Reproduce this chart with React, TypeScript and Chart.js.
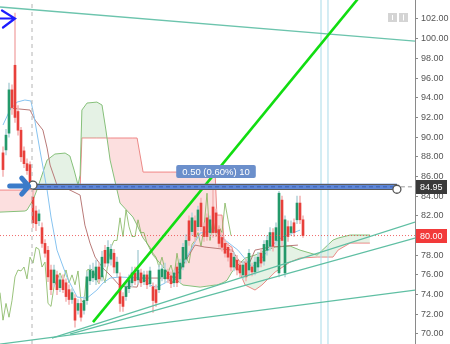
import React, { useEffect, useRef } from 'react';
import { Chart, registerables } from 'chart.js';

Chart.register(...registerables);

// ---------- price axis ----------
const yMin = 68.98;
const yMax = 103.93;
const yStep = 2;
const xMax = 138.33; // visible bar slots

// ---------- candles (bar slots start at 1) ----------
const opens = [88.4, 88.7, 90.4, 94.8, 97.3, 92.6, 90.7, 88.6, 87.3, 87.2, 83.9, 82.5, 81.5, 80.8, 79.2, 78.5, 76.5, 75.2, 76.0, 74.7, 75.5, 75.2, 74.5, 73.5, 73.6, 72.4, 73.1, 72.4, 73.4, 75.4, 75.7, 75.5, 76.8, 75.8, 78.5, 77.2, 77.6, 78.2, 76.2, 75.8, 73.8, 73.8, 74.6, 75.2, 76.2, 75.5, 76.2, 75.3, 76.0, 75.1, 74.8, 74.5, 74.5, 75.8, 75.6, 76.3, 75.9, 75.2, 76.8, 75.6, 76.8, 77.6, 81.5, 80.4, 81.5, 80.9, 83.3, 80.9, 81.8, 80.3, 82.9, 82.3, 80.6, 79.8, 79.2, 78.8, 78.2, 76.8, 77.5, 77.0, 76.0, 77.2, 76.5, 76.8, 76.3, 76.8, 78.2, 77.4, 78.5, 78.9, 80.3, 79.5, 76.2, 83.6, 76.2, 80.9, 80.3, 81.3, 81.6, 83.3, 81.6];
const highs = [89.0, 90.8, 95.5, 95.3, 102.6, 93.2, 91.0, 89.0, 87.8, 87.5, 85.1, 83.0, 82.6, 81.3, 79.6, 78.9, 77.0, 77.0, 76.4, 75.9, 76.0, 75.6, 75.0, 74.6, 74.0, 73.5, 73.5, 73.8, 76.3, 77.0, 77.2, 77.5, 77.2, 78.4, 79.0, 79.5, 79.1, 78.6, 77.8, 76.2, 74.2, 75.3, 76.0, 76.8, 76.8, 78.5, 76.6, 76.4, 76.4, 76.8, 75.2, 75.0, 77.0, 77.0, 77.2, 76.6, 76.3, 76.5, 77.2, 77.6, 79.2, 80.1, 82.0, 82.3, 82.0, 83.0, 83.8, 81.3, 82.2, 82.0, 85.0, 82.7, 81.0, 80.2, 79.6, 79.2, 78.6, 78.3, 78.0, 77.4, 77.4, 77.6, 78.6, 77.2, 77.8, 78.3, 78.6, 79.5, 80.0, 80.8, 80.7, 81.3, 84.5, 84.0, 82.0, 81.5, 81.5, 81.7, 84.0, 84.0, 82.0];
const lows = [86.0, 88.2, 90.0, 92.3, 91.5, 90.2, 87.5, 86.9, 86.2, 85.0, 80.8, 80.5, 81.0, 78.8, 77.8, 75.3, 74.0, 74.8, 74.0, 74.3, 74.2, 73.3, 73.0, 73.1, 70.7, 72.0, 71.3, 72.0, 73.0, 75.0, 75.3, 75.0, 75.2, 75.4, 76.8, 76.9, 77.0, 76.2, 75.8, 72.3, 72.3, 73.4, 74.2, 74.8, 75.0, 75.1, 74.8, 75.0, 74.6, 74.8, 72.2, 72.8, 74.2, 75.4, 75.2, 75.2, 74.7, 74.8, 74.8, 75.2, 76.5, 77.2, 79.0, 80.0, 79.4, 80.5, 80.5, 79.4, 79.5, 79.9, 79.8, 79.9, 78.8, 78.4, 77.8, 77.4, 76.4, 76.4, 76.0, 75.8, 75.6, 75.4, 76.0, 75.9, 76.0, 76.4, 76.8, 77.0, 78.0, 78.5, 78.4, 79.0, 75.8, 79.0, 75.8, 79.4, 80.0, 79.9, 81.2, 81.2, 79.8];
const closes = [86.7, 90.2, 94.8, 93.0, 92.0, 90.7, 88.0, 87.3, 86.6, 85.4, 81.3, 81.2, 82.2, 79.2, 78.2, 75.8, 74.5, 76.5, 74.5, 75.5, 74.5, 73.8, 73.5, 74.2, 71.4, 73.1, 71.7, 73.4, 75.8, 76.5, 76.4, 76.8, 75.6, 77.8, 77.2, 78.8, 78.6, 76.8, 77.3, 73.1, 72.8, 74.8, 75.5, 76.2, 75.4, 76.5, 75.2, 76.0, 75.0, 76.4, 73.4, 73.2, 76.5, 76.6, 76.5, 75.6, 75.1, 76.2, 75.2, 77.2, 78.8, 79.5, 79.5, 81.8, 79.9, 82.6, 80.9, 79.9, 79.9, 81.6, 80.3, 80.3, 79.2, 78.8, 78.2, 77.8, 76.8, 77.8, 76.5, 76.2, 77.0, 75.8, 78.2, 76.3, 77.3, 77.8, 77.2, 79.1, 79.5, 80.3, 78.9, 80.8, 84.3, 79.5, 81.6, 79.9, 80.9, 80.3, 83.3, 81.6, 80.0];

// ---------- Ichimoku ----------
const tenkanX = [1, 3.3, 5.7, 8.3, 10.3, 11.3, 13.3, 15.7, 17, 19, 22.3, 25.7, 29, 32.3, 34.3, 36.7, 40, 47.7, 50, 52.3, 55, 57.7, 61.7, 66.7, 71.7, 75, 79.3, 84, 87.3, 90.7, 94, 100];
const tenkanY = [91.23, 92.75, 93.56, 93.77, 93.67, 92.24, 88.69, 84.62, 81.88, 78.52, 75.78, 73.75, 73.64, 74.46, 75.17, 75.68, 75.78, 75.68, 74.97, 74.76, 75.17, 75.78, 77.5, 80.25, 80.55, 79.54, 78.52, 76.79, 77.71, 79.03, 79.84, 80.55];

const kijunX = [3.3, 10, 11.7, 14.3, 15.7, 16.7, 19, 23.3, 26.7, 28.3, 30, 31.7, 34.3, 36.7, 40, 45.7, 46.7, 55.7, 57.3, 60, 65, 68.3, 77.3, 80, 83.3, 85, 90, 99.3];
const kijunY = [92.95, 92.75, 91.73, 90.72, 88.89, 87.16, 85.13, 84.62, 84.11, 81.06, 79.23, 77.81, 76.69, 75.98, 74.87, 74.76, 75.68, 75.68, 75.17, 76.49, 79.03, 78.83, 78.52, 77.3, 77.3, 78.52, 78.83, 79.03];

const laggingSpan = [74.2, 71.4, 73.1, 71.7, 73.4, 75.8, 76.5, 76.4, 76.8, 75.6, 77.8, 77.2, 78.8, 78.6, 76.8, 77.3, 73.1, 72.8, 74.8, 75.5, 76.2, 75.4, 76.5, 75.2, 76.0, 75.0, 76.4, 73.4, 73.2, 76.5, 76.6, 76.5, 75.6, 75.1, 76.2, 75.2, 77.2, 78.8, 79.5, 79.5, 81.8, 79.9, 82.6, 80.9, 79.9, 79.9, 81.6, 80.3, 80.3, 79.2, 78.8, 78.2, 77.8, 76.8, 77.8, 76.5, 76.2, 77.0, 75.8, 78.2, 76.3, 77.3, 77.8, 77.2, 79.1, 79.5, 80.3, 78.9, 80.8, 84.3, 79.5, 81.6, 79.9, 80.9, 80.3, 83.3, 81.6, 80.0];

const cloudX = [0, 8.3, 9, 11, 12.3, 14, 15.7, 18.3, 21.7, 23.3, 24.7, 26, 26.7, 27.3, 29, 32.3, 34, 35.3, 36.7, 40, 44.3, 45.7, 47.7, 49, 51, 56.7, 61, 66.7, 71.7, 72.3, 74, 74.7, 75.7, 77.3, 79.3, 81.7, 85, 87.3, 91.7, 96.7, 100, 105.7, 111, 112.7, 116.7, 123.3];
const spanA = [82.38, 82.49, 82.59, 83.6, 84.62, 86.15, 87.67, 88.28, 88.38, 88.08, 86.65, 85.13, 86.15, 92.75, 93.46, 93.56, 93.26, 90.72, 87.67, 83.3, 81.88, 81.06, 79.74, 79.23, 78.01, 75.98, 74.97, 74.76, 74.97, 74.97, 75.17, 75.27, 75.47, 76.29, 77.0, 77.71, 78.01, 78.32, 78.83, 78.93, 78.52, 78.01, 79.54, 79.74, 80.05, 80.05];
const spanB = [84.62, 84.62, 84.62, 84.72, 84.72, 84.72, 84.72, 84.72, 84.72, 84.72, 84.72, 84.72, 84.72, 89.91, 89.91, 89.91, 89.91, 89.91, 89.91, 89.91, 89.91, 89.91, 86.45, 86.45, 86.45, 86.45, 86.45, 86.45, 86.45, 82.08, 82.08, 79.54, 79.13, 78.83, 76.69, 74.97, 74.46, 74.97, 76.29, 77.3, 77.71, 77.81, 77.81, 78.52, 79.23, 79.23];

// ---------- drawings (anchor values in bar slot / price) ----------
const topTrend = [[0, 103.22], [138.33, 99.76]];
const riseA = [[17.3, 69.58], [138.33, 81.37]];
const riseB = [[23.3, 69.99], [138.33, 79.74]];
const riseC = [[0, 68.97], [138.33, 74.46]];
const limeTrend = [[31, 71.21], [122, 105.05]];
const dashedVertical = 10.67;
const blueVerticals = [107, 109.33];
const lastPrice = 80.0;
const measurePrice = 84.95;
const measureTop = 85.27;
const measureBottom = 84.65;
const measureStart = [11, 85.13];
const measureEnd = [132.3, 84.7];
const measureText = '0.50 (0.60%) 10';
const measureLabelAt = [72, 87.16];
const arrowTopTip = [5, 102.05];
const arrowMidTip = [9.9, 85.03];

const GREEN = '#23996a';
const RED = '#e8403b';

const pts = (xs: number[], ys: number[]) => xs.map((x, i) => ({ x, y: ys[i] }));
const seg = (p: number[][]) => p.map(([x, y]) => ({ x, y }));
const lineDs = (data: any[], color: string, width = 1, extra: any = {}) => ({
  type: 'line',
  data,
  borderColor: color,
  borderWidth: width,
  pointRadius: 0,
  tension: 0,
  fill: false,
  clip: 0,
  ...extra,
});

const overlay = {
  id: 'overlay',
  afterDatasetsDraw(chart: any) {
    const { ctx } = chart;
    const x = chart.scales.x;
    const y = chart.scales.y;
    const px = (v: number) => x.getPixelForValue(v);
    const py = (v: number) => y.getPixelForValue(v);
    ctx.save();

    // measure band
    const bx1 = px(measureStart[0]);
    const bx2 = px(measureEnd[0]);
    const by1 = py(measureTop);
    const by2 = py(measureBottom);
    ctx.fillStyle = '#5d86d8';
    ctx.fillRect(bx1, by1, bx2 - bx1, by2 - by1);
    ctx.strokeStyle = '#5a5a5a';
    ctx.lineWidth = 1;
    ctx.beginPath();
    ctx.moveTo(bx1, Math.round(by1) + 0.5);
    ctx.lineTo(bx2, Math.round(by1) + 0.5);
    ctx.moveTo(bx1, Math.round(by2) - 0.5);
    ctx.lineTo(bx2, Math.round(by2) - 0.5);
    ctx.stroke();
    ctx.strokeStyle = 'rgba(40,70,150,0.6)';
    ctx.setLineDash([4, 3]);
    ctx.beginPath();
    ctx.moveTo(bx1, py(measurePrice));
    ctx.lineTo(bx2, py(measurePrice));
    ctx.stroke();
    // dashed leader to axis
    ctx.strokeStyle = '#9a9a9a';
    ctx.beginPath();
    ctx.moveTo(px(measureEnd[0]) + 4, py(measurePrice));
    ctx.lineTo(chart.chartArea.right, py(measurePrice));
    ctx.stroke();
    ctx.setLineDash([]);

    // end circles
    [measureStart, measureEnd].forEach(([cx, cy]) => {
      ctx.beginPath();
      ctx.arc(px(cx), py(cy), 4, 0, Math.PI * 2);
      ctx.fillStyle = '#ffffff';
      ctx.fill();
      ctx.strokeStyle = '#555';
      ctx.lineWidth = 1.3;
      ctx.stroke();
    });

    // measure label
    const lx = px(measureLabelAt[0]);
    const ly = py(measureLabelAt[1]);
    ctx.font = '9.5px "Liberation Sans", Arial, sans-serif';
    const tw = ctx.measureText(measureText).width;
    const w = tw + 12;
    ctx.fillStyle = '#6b8fcb';
    ctx.beginPath();
    (ctx as any).roundRect(lx - w / 2, ly, w, 13, 2);
    ctx.fill();
    ctx.fillStyle = '#ffffff';
    ctx.textAlign = 'center';
    ctx.textBaseline = 'middle';
    ctx.fillText(measureText, lx, ly + 7);

    // top-left chevron arrow
    const ax = px(arrowTopTip[0]);
    const ay = py(arrowTopTip[1]);
    ctx.strokeStyle = '#1c1cff';
    ctx.lineWidth = 2.2;
    ctx.lineCap = 'round';
    ctx.beginPath();
    ctx.moveTo(ax - 13, ay - 8);
    ctx.lineTo(ax, ay);
    ctx.lineTo(ax - 12, ay + 9);
    ctx.moveTo(ax - 15, ay);
    ctx.lineTo(ax, ay);
    ctx.stroke();

    // thick arrow at measure start
    const mx = px(arrowMidTip[0]);
    const my = py(arrowMidTip[1]);
    ctx.strokeStyle = '#3b7bc9';
    ctx.lineWidth = 5;
    ctx.lineCap = 'round';
    ctx.lineJoin = 'round';
    ctx.beginPath();
    ctx.moveTo(mx - 20, my);
    ctx.lineTo(mx - 2, my);
    ctx.moveTo(mx - 8, my - 8);
    ctx.lineTo(mx - 1, my);
    ctx.lineTo(mx - 8, my + 8);
    ctx.stroke();

    // small toolbar icons at top right
    const r = chart.chartArea.right;
    ctx.fillStyle = '#d4d4d4';
    ctx.fillRect(r - 27, 13, 9, 9);
    ctx.fillRect(r - 16, 13, 9, 9);
    ctx.strokeStyle = '#ffffff';
    ctx.lineWidth = 1;
    ctx.lineCap = 'butt';
    ctx.beginPath();
    ctx.moveTo(r - 22.5, 15);
    ctx.lineTo(r - 22.5, 20);
    ctx.moveTo(r - 11.5, 14.5);
    ctx.lineTo(r - 11.5, 20.5);
    ctx.stroke();
    ctx.restore();
  },
  afterDraw(chart: any) {
    const { ctx } = chart;
    const y = chart.scales.y;
    const left = chart.chartArea.right;
    const tag = (v: number, bg: string) => {
      const yy = y.getPixelForValue(v);
      ctx.save();
      ctx.fillStyle = bg;
      ctx.fillRect(left + 1, Math.round(yy) - 7, 31, 14);
      ctx.fillStyle = '#ffffff';
      ctx.font = '9px "Liberation Sans", Arial, sans-serif';
      ctx.textAlign = 'left';
      ctx.textBaseline = 'middle';
      ctx.fillText(v.toFixed(2), left + 5, Math.round(yy) + 0.5);
      ctx.restore();
    };
    tag(measurePrice, '#3a3a3a');
    tag(lastPrice, '#f23a3a');
  },
};

export default function App() {
  const ref = useRef<HTMLCanvasElement>(null);
  useEffect(() => {
    document.body.style.margin = '0';
    const bodies = opens.map((o, i) => ({ x: i + 1, y: [o, closes[i]] }));
    const wicks = lows.map((l, i) => ({ x: i + 1, y: [l, highs[i]] }));
    const up = (i: number) => closes[i] >= opens[i];

    const datasets: any[] = [
      lineDs(seg(limeTrend), '#11dd11', 2.6),
      lineDs(seg(topTrend), '#6cc4ad', 1.3),
      lineDs(seg(riseA), '#5fbfa3', 1.3),
      lineDs(seg(riseB), '#5fbfa3', 1.3),
      lineDs(seg(riseC), '#5fbfa3', 1.3),
      lineDs([{ x: 0, y: lastPrice }, { x: xMax, y: lastPrice }], 'rgba(235,70,70,0.8)', 1, { borderDash: [1, 2] }),
      lineDs([{ x: dashedVertical, y: yMin }, { x: dashedVertical, y: yMax }], '#b4b4b4', 1, { borderDash: [4, 4] }),
      lineDs([{ x: blueVerticals[0], y: yMin }, { x: blueVerticals[0], y: yMax }], '#a8dbe8', 1),
      lineDs([{ x: blueVerticals[1], y: yMin }, { x: blueVerticals[1], y: yMax }], '#a8dbe8', 1),
      {
        type: 'bar',
        data: bodies,
        backgroundColor: (c: any) => (up(c.dataIndex) ? GREEN : RED),
        barThickness: 2,
        minBarLength: 1,
        grouped: false,
        borderWidth: 0,
      },
      {
        type: 'bar',
        data: wicks,
        backgroundColor: (c: any) => (up(c.dataIndex) ? '#b9d6dc' : '#f4b8b8'),
        barThickness: 1,
        grouped: false,
        borderWidth: 0,
      },
      lineDs(pts(tenkanX, tenkanY), '#86c3f0', 1),
      lineDs(pts(kijunX, kijunY), '#b97a78', 1),
      lineDs(laggingSpan.map((v, k) => ({ x: k, y: v })), 'rgba(120,175,80,0.75)', 1),
      lineDs(pts(cloudX, spanA), '#86c07a', 1, {
        fill: { target: 14 + 1, above: 'rgba(80,170,80,0.15)', below: 'rgba(240,80,80,0.18)' },
      }),
      lineDs(pts(cloudX, spanB), '#f08c8c', 1),
    ];

    const chart = new Chart(ref.current as HTMLCanvasElement, {
      type: 'bar',
      data: { datasets },
      options: {
        responsive: false,
        animation: false,
        events: [],
        layout: { padding: 0 },
        plugins: { legend: { display: false }, tooltip: { enabled: false } },
        scales: {
          x: { type: 'linear', min: 0, max: xMax, display: false, offset: false },
          y: {
            position: 'right',
            min: yMin,
            max: yMax,
            beginAtZero: false,
            grid: { drawOnChartArea: false, drawTicks: true, tickLength: 3, color: '#8a8a8a' },
            border: { display: true, color: '#8a8a8a' },
            ticks: {
              stepSize: yStep,
              includeBounds: false,
              autoSkip: false,
              padding: 3,
              color: '#555555',
              font: { size: 9, family: '"Liberation Sans", Arial, sans-serif' },
              callback: (v: any) => Number(v).toFixed(2),
            },
            afterFit: (s: any) => {
              s.width = 35;
              s.paddingTop = 0;
              s.paddingBottom = 0;
            },
          },
        },
      } as any,
      plugins: [overlay],
    } as any);
    return () => chart.destroy();
  }, []);
  return (
    <div style={{ position: 'absolute', left: 0, top: 0, width: 450, height: 344 }}>
      <canvas ref={ref} width={450} height={344} style={{ display: 'block', width: 450, height: 344 }} />
    </div>
  );
}
